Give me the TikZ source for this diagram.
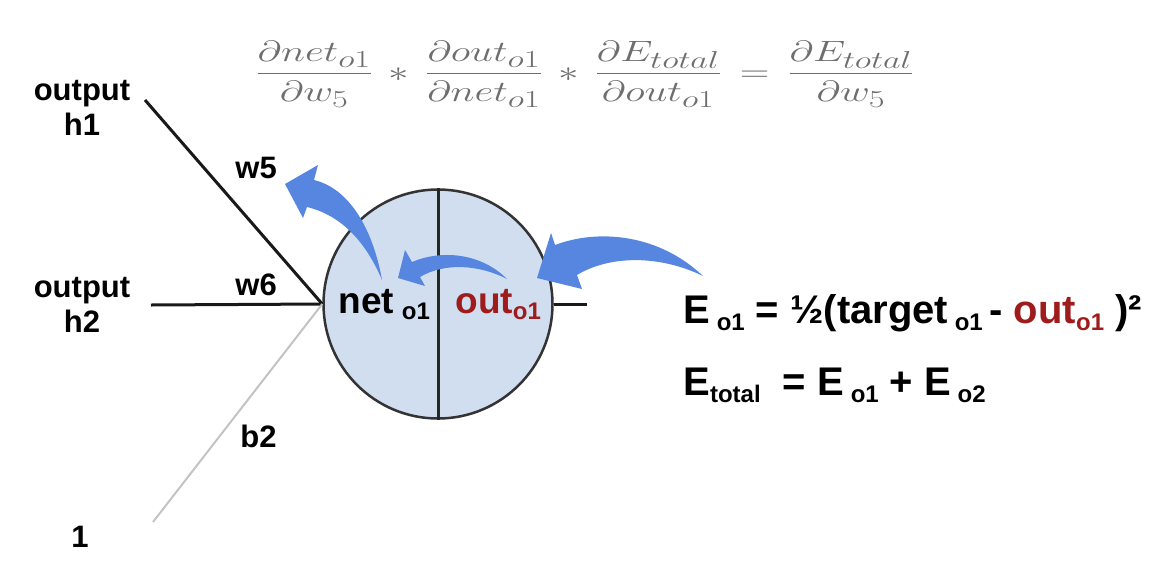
\documentclass[tikz,border=0pt]{standalone}
\usepackage{amsmath}
\usepackage{graphicx}
\usepackage[no-math]{fontspec}
\setmainfont{Liberation Sans}
\usepackage{xcolor}
\usetikzlibrary{positioning,calc}

\definecolor{arrowblue}{RGB}{86,134,224}
\definecolor{cellfill}{RGB}{208,222,240}
\definecolor{outred}{RGB}{158,28,28}
\definecolor{eqgray}{RGB}{110,110,110}
\definecolor{biasgray}{RGB}{195,195,195}

\newcommand{\lsub}[1]{\raisebox{-0.35ex}{\fontsize{24}{24}\selectfont #1}}

\begin{document}
\begin{tikzpicture}[x=1pt, y=-1pt, thick,
    label/.style={font=\fontsize{31}{35}\selectfont\bfseries, align=center, inner sep=0pt},
    formula/.style={font=\fontsize{40}{48}\selectfont\bfseries, inner sep=0pt},
    wire/.style={line width=3pt, black!90}]
    \useasboundingbox (0,0) rectangle (1166,560);

    % Chain rule at the top
    \node[text=eqgray, font=\fontsize{24.88}{30}\selectfont, inner sep=0pt] (chain) at (585,74)
        {\scalebox{1.65}[1.18]{$\displaystyle \frac{\partial net_{o1}}{\partial w_5} \,*\, \frac{\partial out_{o1}}{\partial net_{o1}} \,*\, \frac{\partial E_{total}}{\partial out_{o1}} \,=\, \frac{\partial E_{total}}{\partial w_5}$}};

    % Output neuron split in net and out
    \node[draw=black!80, line width=2.5pt, circle, fill=cellfill, minimum size=229pt, inner sep=0pt] (o1) at (438,304) {};
    \draw[line width=3pt, black!85] (o1.north) -- (o1.south);
    \node[formula, font=\fontsize{37}{40}\selectfont\bfseries, anchor=base west] (net) at (338,313) {net\hspace{8pt}\lsub{o1}};
    \node[formula, font=\fontsize{37}{40}\selectfont\bfseries, text=outred, anchor=base west] (out) at (455,313) {out\lsub{o1}};

    % Inputs
    \node[label, anchor=base] (h1) at (82,135) {output\\h1};
    \node[label, anchor=base] (h2) at (82,332) {output\\h2};
    \node[label, anchor=base] (one) at (80,547) {1};
    \coordinate (h1end) at (145,100);
    \coordinate (h2end) at (151,305);
    \coordinate (biasend) at (153,522);
    \coordinate (outend) at (587,304);
    \draw[wire] (h1end) -- (o1.west);
    \draw[wire] (h2end) -- (o1.west);
    \draw[line width=2pt, biasgray] (biasend) -- (o1.west);
    \draw[wire] (o1.east) -- (outend);
    \node[label, anchor=base west] (w5) at (235,178) {w5};
    \node[label, anchor=base west] (w6) at (235,295) {w6};
    \node[label, anchor=base west] (b2) at (240,447) {b2};

    % Error formulas
    \node[formula, anchor=base west] (eo1) at (683,323)
        {E\,\lsub{o1} = ½(target\,\lsub{o1}\,- \textcolor{outred}{out\lsub{o1}} )²};
    \node[formula, anchor=base west] (etotal) at (683,395)
        {E\lsub{total}\ \ = E\,\lsub{o1} + E\,\lsub{o2}};

    % Curved arrows of the backward pass
    \fill[arrowblue] (537,278) -- (551,233) -- (555,245) .. controls (600,228) and (660,235) .. (703,276)
        .. controls (660,255) and (610,255) .. (577,275) -- (582,289) -- cycle;
    \fill[arrowblue] (398,278) -- (405,250) -- (412,262) .. controls (440,250) and (480,252) .. (507,279)
        .. controls (480,265) and (445,262) .. (420,277) -- (425,286) -- cycle;
    \fill[arrowblue] (285,184) -- (318,165) -- (314,180) .. controls (355,190) and (375,240) .. (382,280)
        .. controls (365,240) and (340,215) .. (307,207) -- (303,218) -- cycle;
\end{tikzpicture}
\end{document}
